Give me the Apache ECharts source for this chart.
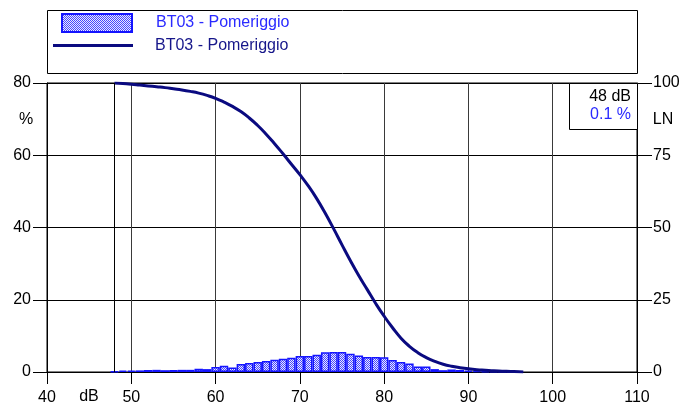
<!DOCTYPE html>
<html>
<head>
<meta charset="utf-8">
<script src="https://cdn.jsdelivr.net/npm/echarts@6/dist/echarts.min.js"></script>
<style>
html,body{margin:0;padding:0;background:#fff;}
#chart{width:692px;height:405px;}
</style>
</head>
<body>
<div id="chart"></div>
<script>
// ---- data ----
const seriesName = 'BT03 - Pomeriggio';
const barLevels = [48,49,50,51,52,53,54,55,56,57,58,59,60,61,62,63,64,65,66,67,68,69,70,71,72,73,74,75,76,77,78,79,80,81,82,83,84,85,86,87,88,89,90,91,92,93,94,95,96];
const barValues = [0.2,0.35,0.35,0.45,0.55,0.6,0.5,0.55,0.6,0.6,0.9,0.8,1.35,1.7,1.25,2.2,2.5,2.8,3.05,3.4,3.65,3.95,4.4,4.45,4.75,5.45,5.55,5.55,5.05,4.55,4.15,4.15,4.05,3.35,2.75,2.35,1.5,1.5,0.8,0.5,0.7,0.55,0.4,0.3,0.2,0.15,0.1,0.1,0.05];
const lnLevels = [48,49,50,51,52,53,54,55,56,57,58,59,60,61,62,63,64,65,66,67,68,69,70,71,72,73,74,75,76,77,78,79,80,81,82,83,84,85,86,87,88,89,90,91,92,93,94,95,96,96.5];
const lnValues = [100,99.8,99.6,99.3,99.0,98.7,98.4,98.0,97.6,97.1,96.5,95.7,94.7,93.4,91.9,90.1,87.9,85.3,82.3,79.0,75.5,71.9,68.3,64.4,60.0,55.0,49.6,44.0,38.5,33.3,28.5,23.7,19.3,15.3,11.7,8.9,6.7,5.0,3.7,2.7,2.0,1.5,1.1,0.8,0.6,0.4,0.3,0.2,0.1,0];
const markerLevel = 48;
const markerText = '48 dB';
const markerPct = '0.1 %';
const xTicks = {min:40, max:110, interval:10};
const yLeftTicks = {min:0, max:80, interval:20};
const yRightTicks = {min:0, max:100, interval:25};

// ---- style ----
const FONT = 'Arial, "Liberation Sans", sans-serif';
const pat = document.createElement('canvas');
pat.width = 2; pat.height = 2;
const pc = pat.getContext('2d');
pc.fillStyle = '#eaeaff'; pc.fillRect(0,0,2,2);
pc.fillStyle = '#4848ff'; pc.fillRect(0,0,1,1); pc.fillRect(1,1,1,1);

const gridLeft = 47, gridRight = 55, gridTop = 83, gridBottom = 33;
const plotW = 692 - gridLeft - gridRight;
const barW = plotW / (xTicks.max - xTicks.min);

const chart = echarts.init(document.getElementById('chart'), null, {renderer:'canvas'});
const option = {
  animation: false,
  backgroundColor: '#fff',
  grid: {left:gridLeft, right:gridRight, top:gridTop, bottom:gridBottom, show:true, borderColor:'#000', borderWidth:1, containLabel:false, outerBoundsMode:'none'},
  legend: [
    {
      data: [{name:'hist', icon:'rect'}], left: 61, top: 13, padding: 0, itemWidth: 70, itemHeight: 18,
      formatter: () => seriesName,
      textStyle: {color:'#2a2aff', fontSize:16, fontFamily:FONT, padding:[0,0,0,19]},
      selectedMode: false
    },
    {
      data: [{name:'ln', icon:'rect'}], left: 53, top: 37.5, padding: 0, itemWidth: 80, itemHeight: 3,
      formatter: () => seriesName,
      itemStyle: {color:'#0a0a80', borderWidth:0},
      textStyle: {color:'#16168a', fontSize:16, fontFamily:FONT, padding:[0,0,0,17]},
      selectedMode: false
    }
  ],
  xAxis: {
    type:'value', min:xTicks.min, max:xTicks.max, interval:xTicks.interval,
    axisLine:{show:true, lineStyle:{color:'#000', width:1}},
    axisTick:{show:true, length:12, lineStyle:{color:'#000'}},
    axisLabel:{color:'#000', fontSize:16, fontFamily:FONT, margin:18},
    splitLine:{show:true, lineStyle:{color:'#3a3a3a', width:1}}
  },
  yAxis: [
    {
      type:'value', position:'left', min:yLeftTicks.min, max:yLeftTicks.max, interval:yLeftTicks.interval,
      axisLine:{show:true, lineStyle:{color:'#000'}},
      axisTick:{show:true, length:14, lineStyle:{color:'#000'}},
      axisLabel:{color:'#000', fontSize:16, fontFamily:FONT, margin:16},
      splitLine:{show:true, lineStyle:{color:'#000', width:1}}
    },
    {
      type:'value', position:'right', min:yRightTicks.min, max:yRightTicks.max, interval:yRightTicks.interval,
      axisLine:{show:true, lineStyle:{color:'#000'}},
      axisTick:{show:true, length:15, lineStyle:{color:'#000'}},
      axisLabel:{color:'#000', fontSize:16, fontFamily:FONT, margin:16},
      splitLine:{show:false}
    }
  ],
  series: [
    {
      name:'hist', type:'bar', xAxisIndex:0, yAxisIndex:0,
      data: barLevels.map((l,i)=>[l, barValues[i]]),
      barWidth: barW,
      itemStyle:{color:{image:pat, repeat:'repeat'}, borderColor:'#1414ff', borderWidth:1.5},
      markLine:{
        silent:true, symbol:['none','none'], label:{show:false},
        lineStyle:{color:'#000', width:1, type:'solid'},
        data:[{xAxis:markerLevel}]
      },
      z:2
    },
    {
      name:'ln', type:'line', xAxisIndex:0, yAxisIndex:1,
      data: lnLevels.map((l,i)=>[l, lnValues[i]]),
      symbol:'none', smooth:true,
      lineStyle:{color:'#0a0a80', width:3},
      itemStyle:{color:'#0a0a80'},
      z:3
    }
  ],
  graphic: [
    {type:'rect', shape:{x:47.5, y:10.5, width:590, height:63}, style:{fill:'none', stroke:'#000', lineWidth:1}, silent:true, z:1},
    {type:'rect', shape:{x:569.5, y:83.5, width:68, height:46}, style:{fill:'#fff', stroke:'#000', lineWidth:1}, silent:true, z:100},
    {type:'text', x:631, y:97, style:{text:markerText, fill:'#000', font:'16px '+FONT, textAlign:'right', textVerticalAlign:'middle'}, z:101},
    {type:'text', x:631, y:115, style:{text:markerPct, fill:'#2a2aff', font:'16px '+FONT, textAlign:'right', textVerticalAlign:'middle'}, z:101},
    {type:'text', x:26, y:120, style:{text:'%', fill:'#000', font:'16px '+FONT, textAlign:'center', textVerticalAlign:'middle'}, z:101},
    {type:'text', x:663, y:120, style:{text:'LN', fill:'#000', font:'16px '+FONT, textAlign:'center', textVerticalAlign:'middle'}, z:101},
    {type:'text', x:89, y:397, style:{text:'dB', fill:'#000', font:'16px '+FONT, textAlign:'center', textVerticalAlign:'middle'}, z:101}
  ]
};
chart.setOption(option);
</script>
</body>
</html>
